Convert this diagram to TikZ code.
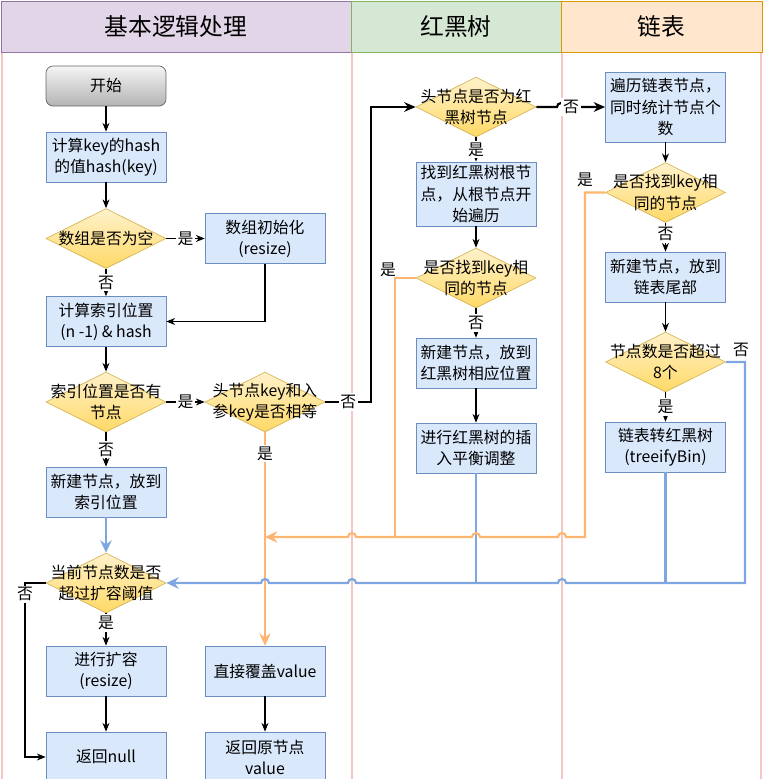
\documentclass[tikz,border=0pt]{standalone}
\usepackage{fontspec}
\setmainfont{Noto Sans CJK SC}
\usetikzlibrary{positioning}
\usetikzlibrary{shapes.geometric}
\usetikzlibrary{arrows.meta}

\definecolor{boxfill}{HTML}{DAE8FC}
\definecolor{boxline}{HTML}{6C8EBF}
\definecolor{diatop}{HTML}{FFF2CC}
\definecolor{diabot}{HTML}{FFD966}
\definecolor{dialine}{HTML}{D6B656}
\definecolor{flowblue}{HTML}{7EA6E0}
\definecolor{floworange}{HTML}{FFB570}
\definecolor{lanepink}{HTML}{F4C7C3}
\definecolor{purpfill}{HTML}{E1D5E7}
\definecolor{purpline}{HTML}{9673A6}
\definecolor{greenfill}{HTML}{D5E8D4}
\definecolor{greenline}{HTML}{82B366}
\definecolor{orangefill}{HTML}{FFE6CC}
\definecolor{orangeline}{HTML}{D79B00}
\definecolor{graytop}{HTML}{F5F5F5}
\definecolor{graybot}{HTML}{B3B3B3}

\newcommand{\boxfont}{\fontsize{9pt}{12pt}\selectfont}
\newcommand{\headfont}{\fontsize{13.5pt}{16pt}\selectfont}

\tikzset{
  proc/.style={draw=boxline, fill=boxfill, minimum width=2.4cm, minimum height=1cm, align=center, inner sep=1pt, font=\boxfont},
  decision/.style={diamond, draw=dialine, top color=diatop, bottom color=diabot, minimum width=2.4cm, minimum height=1.2cm, inner sep=0pt},
  dtext/.style={align=center, font=\boxfont, inner sep=0pt},
  startbox/.style={draw=black!60, rounded corners=0.14cm, top color=graytop, bottom color=graybot, minimum width=2.4cm, minimum height=0.8cm, font=\boxfont},
  lanehead/.style={minimum height=1.02cm, font=\headfont, inner sep=0pt},
  laneline/.style={draw=lanepink, line width=1pt},
  lbl/.style={fill=white, inner sep=1pt, font=\boxfont},
  tag/.style={inner sep=0pt, font=\boxfont},
  arr/.style={-{Stealth[length=5pt,width=4pt]}, line width=0.6pt},
  bigarr/.style={-{Stealth[length=6.5pt,width=5.5pt]}, line width=1.2pt},
  blueline/.style={draw=flowblue, line width=1.2pt},
  orangeflow/.style={draw=floworange, line width=1.2pt},
  tipfill/.style={-{Stealth[length=7pt,width=6.5pt]}}
}

\begin{document}
\begin{tikzpicture}[x=0.02cm, y=-0.02cm]
  \useasboundingbox (0,0) rectangle (763,779);

  % Carriles
  \draw[laneline] (2,52) -- (2,779);
  \draw[laneline] (352,52) -- (352,779);
  \draw[laneline] (562,52) -- (562,779);
  \draw[laneline] (761,52) -- (761,779);
  \node[lanehead, fill=purpfill, draw=purpline, minimum width=7cm] (hbase) at (176,26.5) {基本逻辑处理};
  \node[lanehead, fill=greenfill, draw=greenline, minimum width=4.2cm] (hrb) at (456,26.5) {红黑树};
  \node[lanehead, fill=orangefill, draw=orangeline, minimum width=4.02cm] (hlist) at (661.5,26.5) {链表};

  % Cajas
  \node[startbox] (start) at (106,86) {开始};
  \node[proc] (hash) at (106,157) {计算key的hash\\的值hash(key)};
  \node[decision, label={[dtext]center:数组是否为空}] (empty) at (106,238.5) {};
  \node[proc] (init) at (265,238.5) {数组初始化\\(resize)};
  \node[proc] (index) at (106,321.5) {计算索引位置\\(n -1) \& hash};
  \node[decision, label={[dtext]center:索引位置是否有\\节点}] (hasnode) at (106,402) {};
  \node[decision, label={[dtext]center:头节点key和入\\参key是否相等}] (samekey) at (265,402) {};
  \node[proc] (newidx) at (106,492) {新建节点，放到\\索引位置};
  \node[decision, label={[dtext]center:当前节点数是否\\超过扩容阈值}] (over) at (106,583) {};
  \node[proc] (resize) at (106,671) {进行扩容\\(resize)};
  \node[proc] (retnull) at (106,757) {返回null};
  \node[proc] (cover) at (265,671) {直接覆盖value};
  \node[proc] (retold) at (265,757) {返回原节点\\value};

  \node[decision, label={[dtext]center:头节点是否为红\\黑树节点}] (isrb) at (476,107) {};
  \node[proc, minimum height=1.28cm] (root) at (476,194) {找到红黑树根节\\点，从根节点开\\始遍历};
  \node[decision, label={[dtext]center:是否找到key相\\同的节点}] (rbfind) at (476,278) {};
  \node[proc] (rbnew) at (476,363) {新建节点，放到\\红黑树相应位置};
  \node[proc] (rbfix) at (476,448) {进行红黑树的插\\入平衡调整};

  \node[proc, minimum height=1.4cm] (walk) at (665.5,107) {遍历链表节点，\\同时统计节点个\\数};
  \node[decision, label={[dtext]center:是否找到key相\\同的节点}] (lfind) at (665.5,192.5) {};
  \node[proc] (lnew) at (665.5,277) {新建节点，放到\\链表尾部};
  \node[decision, label={[dtext]center:节点数是否超过\\8个}] (count) at (665.5,362) {};
  \node[proc] (treeify) at (665.5,447) {链表转红黑树\\(treeifyBin)};

  % Flechas
  \draw[arr] (start) -- (hash);
  \draw[arr] (hash) -- (empty);
  \draw[arr] (empty) -- node[lbl]{是} (init);
  \draw[arr] (empty) -- node[lbl]{否} (index);
  \draw[arr] (init.south) |- (index.east);
  \draw[arr] (index) -- (hasnode);
  \draw[arr] (hasnode) -- node[lbl]{是} (samekey);
  \draw[arr] (hasnode) -- node[lbl]{否} (newidx);
  \draw[blueline, tipfill] (newidx) -- (over);
  \draw[arr] (over) -- node[lbl, pos=0.3]{是} (resize);
  \draw[arr] (over.west) -- (25,583) -- node[lbl, pos=0.065]{否} (25,757) -- (retnull.west);
  \draw[arr] (resize) -- (retnull);
  \draw[arr] (cover) -- (retold);
  \draw[orangeflow, tipfill] (samekey.south) -- node[lbl, pos=0.1]{是} (cover.north);

  \draw[bigarr] (samekey.east) -- node[lbl]{否} ++(46,0) |- (isrb.west);
  \draw[bigarr] (isrb.east) -- (557,107) arc[start angle=180, end angle=0, radius=0.08cm] -- node[lbl, pos=0.15]{否} (walk.west);
  \draw[arr] (isrb) -- node[lbl]{是} (root);
  \draw[arr] (root) -- (rbfind);
  \draw[arr] (rbfind) -- node[lbl]{否} (rbnew);
  \draw[arr] (rbnew) -- (rbfix);
  \draw[orangeflow] (rbfind.west) -- (395,278) node[tag, anchor=south east, xshift=0.04cm]{是} -- (395,537);
  \draw[blueline] (rbfix.south) -- (476,583);

  \draw[arr] (walk) -- (lfind);
  \draw[arr] (lfind) -- node[lbl, pos=0.4]{否} (lnew);
  \draw[arr] (lnew) -- (count);
  \draw[arr] (count) -- node[lbl]{是} (treeify);
  \draw[blueline] (treeify.south) -- (665.5,583);
  \draw[orangeflow, tipfill] (lfind.west) -- (585,192.5) node[tag, anchor=south, yshift=0.1cm]{是} -- (585,537)
    -- (566,537) arc[start angle=0, end angle=180, radius=0.08cm]
    -- (480,537) arc[start angle=0, end angle=180, radius=0.08cm]
    -- (356,537) arc[start angle=0, end angle=180, radius=0.08cm]
    -- (265,537);
  \draw[blueline, tipfill] (count.east) -- (745,362) node[tag, anchor=south, xshift=-0.08cm, yshift=0.08cm]{否} -- (745,583)
    -- (566,583) arc[start angle=0, end angle=180, radius=0.08cm]
    -- (356,583) arc[start angle=0, end angle=180, radius=0.08cm]
    -- (269,583) arc[start angle=0, end angle=180, radius=0.08cm]
    -- (over.east);
\end{tikzpicture}
\end{document}
